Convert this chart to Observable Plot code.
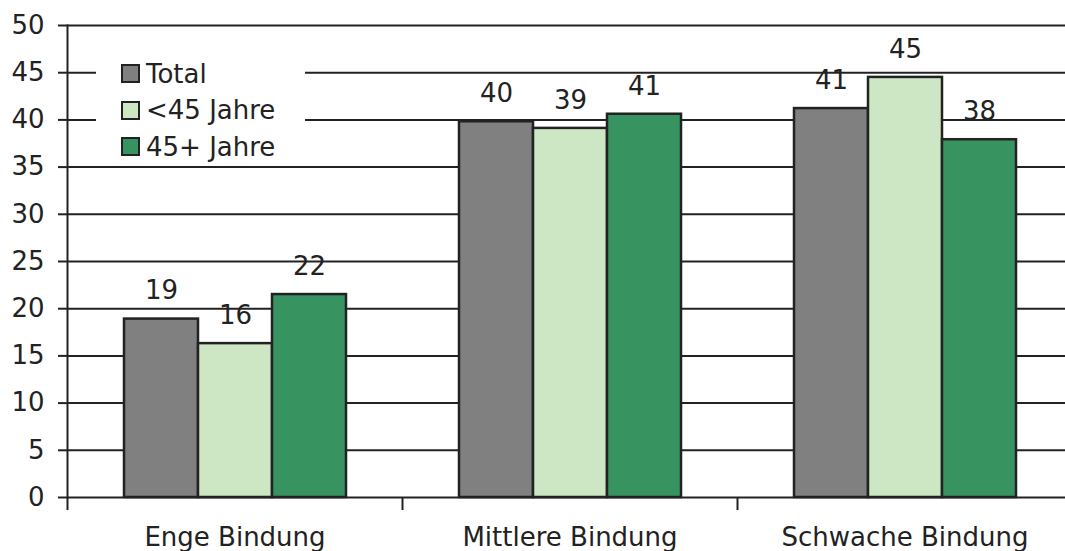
<!DOCTYPE html>
<html><head><meta charset="utf-8">
<script src="https://cdn.jsdelivr.net/npm/d3@7"></script>
<script src="https://cdn.jsdelivr.net/npm/@observablehq/plot@0.6"></script>
<style>
body{margin:0;overflow:hidden;background:#fff;font-family:"DejaVu Sans",Verdana,sans-serif;}
#wrap{position:relative;width:1065px;height:551px;overflow:hidden;}
#chart svg{max-width:none !important;}
#legend{position:absolute;left:96px;top:56px;width:209px;height:108px;background:#fff;}
.item{position:absolute;left:25px;height:26px;display:flex;align-items:center;font-size:26px;color:#222;white-space:nowrap;}
.sw{width:15px;height:15px;border:2px solid #222;margin-right:6px;}
</style></head>
<body><div id="wrap"><div id="chart"></div><div id="legend"></div></div>
<script>
const categories = ["Enge Bindung", "Mittlere Bindung", "Schwache Bindung"];
const series = ["Total", "<45 Jahre", "45+ Jahre"];
const colors = ["#808080", "#cde6c4", "#379461"];
const valTotal = [18.9, 39.8, 41.2];
const valUnder45 = [16.3, 39.1, 44.5];
const val45plus = [21.5, 40.6, 37.9];
const lblTotal = [19, 40, 41];
const lblUnder45 = [16, 39, 45];
const lbl45plus = [22, 41, 38];
const yTicks = [0, 5, 10, 15, 20, 25, 30, 35, 40, 45, 50];

const vals = [valTotal, valUnder45, val45plus];
const lbls = [lblTotal, lblUnder45, lbl45plus];
const rows = [];
categories.forEach((c, i) => series.forEach((s, j) => rows.push({cat: c, ser: s, value: vals[j][i], label: lbls[j][i]})));

const chart = Plot.plot({
  width: 1072, height: 551,
  marginLeft: 67, marginRight: 0, marginTop: 25, marginBottom: 54,
  style: {fontFamily: "DejaVu Sans, Verdana, sans-serif", fontSize: "26px", color: "#222", background: "transparent", maxWidth: "none"},
  fx: {domain: categories, padding: 0, label: null},
  x: {domain: series, paddingInner: 0, paddingOuter: 0.755, axis: null},
  y: {domain: [0, 50], label: null},
  color: {domain: series, range: colors},
  marks: [
    Plot.ruleY(yTicks, {stroke: "#222", strokeWidth: 2, strokeOpacity: 1}),
    Plot.barY(rows, {fx: "cat", x: "ser", y: "value", fill: "ser", stroke: "#222", strokeWidth: 2.5}),
    Plot.text(rows, {fx: "cat", x: "ser", y: "value", text: "label", dy: -28, fill: "#222", fontSize: 26}),
    Plot.frame({anchor: "left", facetAnchor: "left", stroke: "#222", strokeWidth: 2}),
    Plot.axisY(yTicks, {tickSize: 9, tickPadding: 14, stroke: "#222", strokeWidth: 2, strokeOpacity: 1, label: null, fontSize: 26, fill: "#222"}),
    Plot.axisFx({anchor: "bottom", tickSize: 0, tickPadding: 30, label: null, fontSize: 26, fill: "#222"}),
    Plot.axisFx({anchor: "bottom", tickSize: 13, tickFormat: () => "", dx: -167.5, stroke: "#222", strokeWidth: 2, strokeOpacity: 1, label: null})
  ]
});
document.getElementById("chart").appendChild(chart);

const legend = document.getElementById("legend");
series.forEach((s, j) => {
  const it = document.createElement("div");
  it.className = "item";
  it.style.top = (4.5 + j * 36.5) + "px";
  const sw = document.createElement("div");
  sw.className = "sw";
  sw.style.background = colors[j];
  const tx = document.createElement("span");
  tx.textContent = s;
  it.appendChild(sw); it.appendChild(tx);
  legend.appendChild(it);
});
</script>
</body></html>
